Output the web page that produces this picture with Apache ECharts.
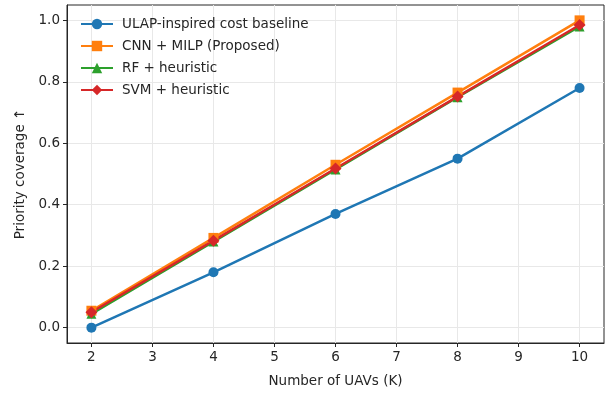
<!DOCTYPE html>
<html>
<head>
<meta charset="utf-8">
<script src="https://cdn.jsdelivr.net/npm/echarts@6/dist/echarts.min.js"></script>
<style>
  html, body { margin: 0; padding: 0; background: #fff; }
  #chart { width: 605px; height: 393px; }
</style>
</head>
<body>
<div id="chart"></div>
<script>
var uavCounts = [2, 4, 6, 8, 10];
var ulapBaseline = [0.0, 0.18, 0.37, 0.55, 0.78];
var cnnMilp = [0.055, 0.292, 0.53, 0.765, 1.0];
var rfHeuristic = [0.045, 0.28, 0.515, 0.75, 0.98];
var svmHeuristic = [0.05, 0.283, 0.518, 0.752, 0.985];
var xTicks = [2, 3, 4, 5, 6, 7, 8, 9, 10];
var yTicks = [0, 0.2, 0.4, 0.6, 0.8, 1.0];

var chartDom = document.getElementById('chart');
var myChart = echarts.init(chartDom);

function pairs(ys) {
    var out = [];
    for (let i = 0; i < uavCounts.length; i++) {
        out.push([uavCounts[i], ys[i]]);
    }
    return out;
}

function makeSeries(name, ys, color, symbol, size) {
    return {
        name: name,
        type: 'line',
        data: pairs(ys),
        symbol: symbol,
        symbolSize: size,
        showAllSymbol: true,
        lineStyle: { color: color, width: 2.5 },
        itemStyle: { color: color },
        emphasis: { disabled: true },
        animation: false
    };
}

var textColor = '#262626';
var font = 'DejaVu Sans';

var option = {
    animation: false,
    grid: {
        left: 67, right: 1, top: 5, bottom: 49,
        show: true, borderColor: '#262626', borderWidth: 1
    },
    legend: {
        left: 75, top: 12,
        orient: 'vertical',
        itemGap: 8,
        itemWidth: 32,
        itemHeight: 13,
        textStyle: { fontFamily: font, fontSize: 13.5, color: textColor, padding: [0, 0, 0, 4] },
        data: ['ULAP-inspired cost baseline', 'CNN + MILP (Proposed)', 'RF + heuristic', 'SVM + heuristic']
    },
    xAxis: {
        type: 'value',
        min: 1.6, max: 10.4,
        name: 'Number of UAVs (K)',
        nameLocation: 'middle',
        nameGap: 31,
        nameTextStyle: { fontFamily: font, fontSize: 13.5, color: textColor },
        axisLine: { show: true, onZero: false, lineStyle: { color: '#262626' } },
        axisTick: { show: true, length: 4, customValues: xTicks, lineStyle: { color: '#262626' } },
        axisLabel: { customValues: xTicks, fontFamily: font, fontSize: 13.5, color: textColor, margin: 7 },
        splitLine: { show: true, lineStyle: { color: '#e8e8e8', width: 1 } }
    },
    yAxis: {
        type: 'value',
        min: -0.05, max: 1.05,
        name: 'Priority coverage \u2191',
        nameLocation: 'middle',
        nameGap: 40,
        nameTextStyle: { fontFamily: font, fontSize: 13.5, color: textColor },
        axisLine: { show: true, onZero: false, lineStyle: { color: '#262626' } },
        axisTick: { show: true, length: 4, customValues: yTicks, lineStyle: { color: '#262626' } },
        axisLabel: {
            customValues: yTicks, fontFamily: font, fontSize: 13.5, color: textColor, margin: 7,
            formatter: function (v) { return v.toFixed(1); }
        },
        splitLine: { show: true, lineStyle: { color: '#e8e8e8', width: 1 } }
    },
    series: [
        makeSeries('ULAP-inspired cost baseline', ulapBaseline, '#1f77b4', 'circle', 10),
        makeSeries('CNN + MILP (Proposed)', cnnMilp, '#ff7f0e', 'rect', 10),
        makeSeries('RF + heuristic', rfHeuristic, '#2ca02c', 'triangle', 10),
        makeSeries('SVM + heuristic', svmHeuristic, '#d62728', 'diamond', 12)
    ]
};

option && myChart.setOption(option);
window.addEventListener('resize', myChart.resize);
</script>
</body>
</html>
